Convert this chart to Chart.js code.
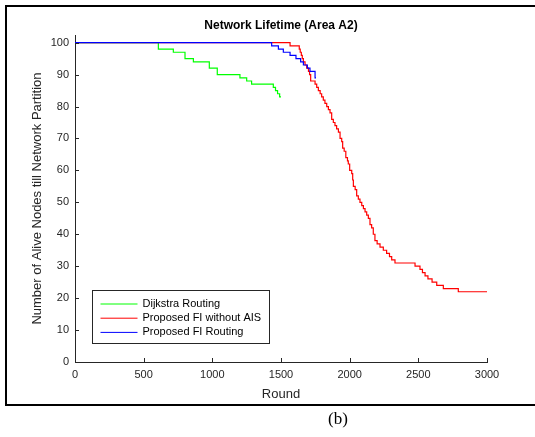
<!DOCTYPE html>
<html lang="en">
<head>
<meta charset="UTF-8">
<script src="https://cdn.jsdelivr.net/npm/chart.js@4.4.0/dist/chart.umd.min.js"></script>
<title>Network Lifetime (Area A2)</title>
<style>
  body { margin: 0; background: #fff; overflow: hidden; }
  #wrap { position: relative; width: 535px; height: 437px; overflow: hidden; }
  #cap { position: absolute; left: 308px; top: 410px; width: 60px; text-align: center; font: 17px "Liberation Serif", serif; line-height: 18px; color: #000; }
</style>
</head>
<body>
<div id="wrap">
  <canvas id="myChart" width="535" height="437"></canvas>
  <div id="cap">(b)</div>
</div>

<script>
// step points: round where the count changes, and the new count
var dijkstraRounds = [0, 607, 716, 801, 862, 978, 1036, 1201, 1250, 1286, 1444, 1460, 1475, 1490, 1500];
var dijkstraNodes  = [100, 98, 97, 95, 94, 92, 90, 89, 88, 87, 86, 85, 84, 83, 83];

var noAisRounds = [0, 1566, 1633, 1640, 1648, 1655, 1663, 1675, 1687, 1700, 1708, 1716, 1748, 1760, 1772, 1785,
  1796, 1808, 1820, 1833, 1845, 1857, 1869, 1881, 1893, 1905, 1918, 1930, 1942, 1949, 1960, 1972, 1984, 1990,
  2000, 2015, 2022, 2027, 2040, 2051, 2063, 2075, 2088, 2100, 2112, 2124, 2136, 2148, 2160, 2172, 2184, 2200,
  2221, 2245, 2269, 2290, 2306, 2330, 2476, 2512, 2530, 2549, 2570, 2600, 2634, 2682, 2791, 3000];
var noAisNodes = [100, 99, 98, 97, 96, 95, 94, 93, 92, 91, 90, 88, 87, 86, 85, 84,
  83, 82, 81, 80, 79, 78, 76, 75, 74, 73, 72, 70, 69, 67, 66, 64, 63, 62,
  60, 59, 57, 55, 54, 52, 51, 50, 49, 48, 47, 46, 45, 43, 42, 40, 38, 37,
  36, 35, 34, 33, 32, 31, 30, 29, 28, 27, 26, 25, 24, 23, 22, 22];

var fiRounds = [0, 1432, 1481, 1517, 1566, 1609, 1643, 1663, 1692, 1711, 1748, 1755];
var fiNodes  = [100, 99, 98, 97, 96, 95, 94, 93, 92, 91, 89, 89];

var xTicks = [0, 500, 1000, 1500, 2000, 2500, 3000];
var yTicks = [0, 10, 20, 30, 40, 50, 60, 70, 80, 90, 100];

var seriesNames = ['Dijkstra Routing', 'Proposed FI without AIS', 'Proposed FI Routing'];
var seriesColors = ['#00ff00', '#ff0000', '#0000ff'];

function toPoints(xs, ys) {
  return xs.map(function (x, i) { return { x: x, y: ys[i] }; });
}

var axisColor = '#262626';
var tickFont = { family: '"Liberation Sans", Arial, sans-serif', size: 11 };

// matlab style inward tick marks, legend box, and the figure frame
var matlabBits = {
  id: 'matlabBits',
  beforeDraw: function (chart) {
    var ctx = chart.ctx;
    ctx.save();
    ctx.strokeStyle = '#000';
    ctx.lineWidth = 2;
    ctx.beginPath();
    ctx.moveTo(chart.width + 5, 6);
    ctx.lineTo(6, 6);
    ctx.lineTo(6, 405);
    ctx.lineTo(chart.width + 5, 405);
    ctx.stroke();
    ctx.restore();
  },
  afterDraw: function (chart) {
    var ctx = chart.ctx;
    var area = chart.chartArea;
    var xs = chart.scales.x, ys = chart.scales.y;
    ctx.save();
    ctx.strokeStyle = axisColor;
    ctx.lineWidth = 1;
    ctx.beginPath();
    xs.ticks.forEach(function (t) {
      var px = Math.round(xs.getPixelForValue(t.value)) + 0.5;
      ctx.moveTo(px, area.bottom);
      ctx.lineTo(px, area.bottom - 4);
    });
    ys.ticks.forEach(function (t) {
      var py = Math.round(ys.getPixelForValue(t.value)) + 0.5;
      ctx.moveTo(area.left, py);
      ctx.lineTo(area.left + 4, py);
    });
    ctx.stroke();

    // legend
    var bx = area.left + 17.5, by = area.bottom - 71.5, bw = 177, bh = 53;
    ctx.fillStyle = '#fff';
    ctx.fillRect(bx, by, bw, bh);
    ctx.strokeStyle = axisColor;
    ctx.strokeRect(bx, by, bw, bh);
    ctx.font = '11px "Liberation Sans", Arial, sans-serif';
    ctx.textBaseline = 'middle';
    ctx.textAlign = 'left';
    for (var i = 0; i < seriesNames.length; i++) {
      var ly = by + 13.5 + i * 14.2;
      ctx.strokeStyle = seriesColors[i];
      ctx.beginPath();
      ctx.moveTo(bx + 8, ly);
      ctx.lineTo(bx + 45, ly);
      ctx.stroke();
      ctx.fillStyle = '#000';
      ctx.fillText(seriesNames[i], bx + 50, ly);
    }
    ctx.restore();
  }
};

var ctx = document.getElementById('myChart').getContext('2d');
var myChart = new Chart(ctx, {
  type: 'line',
  data: {
    datasets: [{
      label: seriesNames[0],
      data: toPoints(dijkstraRounds, dijkstraNodes),
      borderColor: seriesColors[0],
      order: 2
    }, {
      label: seriesNames[1],
      data: toPoints(noAisRounds, noAisNodes),
      borderColor: seriesColors[1],
      order: 1
    }, {
      label: seriesNames[2],
      data: toPoints(fiRounds, fiNodes),
      borderColor: seriesColors[2],
      order: 0
    }]
  },
  options: {
    responsive: false,
    animation: false,
    events: [],
    elements: {
      point: { radius: 0 },
      line: { borderWidth: 1.2, stepped: true, fill: false, tension: 0 }
    },
    layout: { padding: { left: 0, right: 48, top: 0, bottom: 35 } },
    plugins: {
      legend: { display: false },
      tooltip: { enabled: false },
      title: {
        display: true,
        text: 'Network Lifetime (Area A2)',
        fullSize: false,
        color: '#000',
        font: { family: '"Liberation Sans", Arial, sans-serif', size: 12, weight: 'bold' },
        padding: { top: 18.8, bottom: 1.8 }
      }
    },
    scales: {
      x: {
        type: 'linear',
        min: 0,
        max: 3000,
        ticks: {
          color: axisColor, font: tickFont, padding: 6, maxRotation: 0,
          callback: function (v) { return String(v); }
        },
        afterBuildTicks: function (scale) {
          scale.ticks = xTicks.map(function (v) { return { value: v }; });
        },
        grid: { display: false, drawTicks: false },
        border: { display: true, color: axisColor, width: 1 },
        title: {
          display: true, text: 'Round', color: axisColor,
          font: { family: '"Liberation Sans", Arial, sans-serif', size: 13 },
          padding: { top: 0, bottom: 0 }
        },
        afterFit: function (scale) { scale.height = 40; }
      },
      y: {
        min: 0,
        max: 102.4,
        ticks: {
          color: axisColor, font: tickFont, padding: 6,
          callback: function (v) { return String(v); }
        },
        afterBuildTicks: function (scale) {
          scale.ticks = yTicks.map(function (v) { return { value: v }; });
        },
        grid: { display: false, drawTicks: false },
        border: { display: true, color: axisColor, width: 1 },
        title: {
          display: true, text: 'Number of Alive Nodes till Network Partition', color: axisColor,
          font: { family: '"Liberation Sans", Arial, sans-serif', size: 13 },
          padding: { top: 30, bottom: 0 }
        },
        afterFit: function (scale) { scale.width = 75; }
      }
    }
  },
  plugins: [matlabBits]
});
</script>
</body>
</html>
